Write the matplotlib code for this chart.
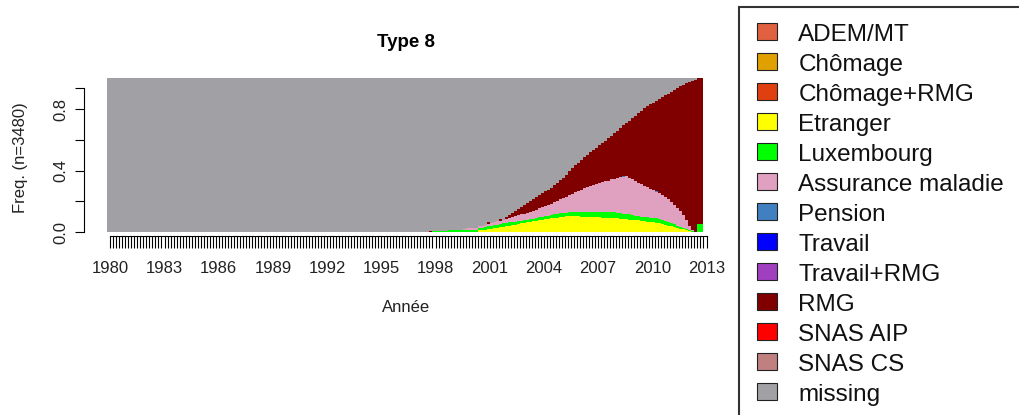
import numpy as np
import matplotlib
matplotlib.use("Agg")
import matplotlib.pyplot as plt
from matplotlib.patches import Rectangle

plt.rcParams['font.family'] = ['Liberation Sans', 'DejaVu Sans']

# states, in stacking order (bottom -> top)
states = ['ADEM/MT', 'Chômage', 'Chômage+RMG', 'Etranger', 'Luxembourg',
          'Assurance maladie', 'Pension', 'Travail', 'Travail+RMG', 'RMG',
          'SNAS AIP', 'SNAS CS', 'missing']
colors = ['#E0603F', '#E0A000', '#E04010', '#FFFF00', '#00FF00',
          '#E0A0C0', '#4080C0', '#0000FF', '#A040C0', '#800000',
          '#FF0000', '#C08080', '#A1A1A5']

# 199 bimonthly time points 1980..2013, first 105 columns all missing, last one empty
tick_labels = [str(y) for y in range(1980, 2014, 3)]
n_cols = 199

etranger = [0.0] * 105 + [0] * 18 + [
    .012, .015, .018, .02, .023, .026, .029, .032, .036, .04,
    .043, .047, .05, .054, .058, .061, .065, .069, .072, .075,
    .078, .081, .084, .087, .09, .093, .096, .099, .102, .104,
    .105, .105, .104, .103, .102, .102, .101, .101, .1, .099,
    .097, .096, .095, .094, .093, .092, .09, .088, .086, .084,
    .083, .081, .079, .078, .076, .073, .07, .067, .064, .061,
    .058, .053, .048, .043, .038, .033, .028, .024, .019, .014,
    .008, .003, 0, 0, 0] + [0.0]

luxembourg = [0.0] * 105 + [0, 0, 0,
    .006, .007, .008, .009, .01, .014, .016, .017, .018, .018,
    .018, .017, .016, .016, .016, .015, .016, .017, .018, .019,
    .02, .021, .021, .022, .022, .022, .02, .019, .018, .017,
    .016, .015, .015, .016, .018, .019, .02, .021, .022, .022,
    .023, .023, .024, .024, .024, .025, .026, .027, .028, .029,
    .029, .029, .03, .03, .031, .032, .033, .034, .035, .036,
    .037, .038, .037, .036, .035, .033, .031, .029, .027, .026,
    .026, .027, .028, .028, .029, .029, .028, .026, .024, .021,
    .018, .015, .013, .011, .01, .009, .007, .004, .055, .055] + [0.0]

assurance = [0.0] * 105 + [0] * 13 + [
    .006, .008, .009, .01, .01, .011, .012, .014, .015, .017,
    .019, .021, .023, .025, .027, .03, .033, .036, .039, .042,
    .045, .048, .05, .053, .055, .058, .061, .064, .067, .073,
    .079, .086, .092, .098, .104, .111, .119, .128, .136, .145,
    .154, .162, .167, .175, .181, .189, .195, .201, .207, .214,
    .219, .225, .233, .24, .247, .239, .233, .225, .217, .21,
    .203, .195, .187, .18, .172, .165, .161, .158, .148, .139,
    .129, .117, .101, .082, .056, .023, .002, 0, 0, 0] + [0.0]

pension = [0.0] * 105 + [0] * 66 + [.006] + [0] * 10 + [.005] + [0] * 15 + [0.0]

rmg = [0.0] * 105 + [0, 0, .01] + [0] * 18 + [.012, 0, 0, 0, .01, 0,
    .011, .02, .028, .036, .043, .05, .058, .065, .071, .076,
    .081, .086, .091, .096, .101, .105, .11, .115, .122, .131,
    .143, .154, .165, .175, .185, .194, .203, .213, .222, .23,
    .239, .247, .256, .265, .274, .282, .295, .307, .319, .326,
    .344, .37, .395, .424, .451, .478, .503, .526, .548, .57,
    .586, .613, .635, .657, .686, .715, .745, .777, .81, .846,
    .888, .937, .973, .988, .945, .945] + [0.0]

missing = [1.0] * 105 + [1, 1, .99,
    .994, .993, .992, .991, .99, .986, .984, .983, .982, .982,
    .976, .975, .975, .974, .974, .962, .957, .951, .935, .941,
    .935, .929, .914, .917, .90, .885, .872, .859, .846, .833,
    .82, .807, .795, .783, .771, .759, .747, .735, .723, .71,
    .695, .68, .663, .645, .625, .605, .585, .566, .548, .53,
    .512, .495, .48, .465, .45, .435, .42, .405, .39, .375,
    .357, .34, .323, .306, .29, .275, .26, .243, .227, .21,
    .195, .182, .17, .158, .147, .135, .123, .111, .099, .087,
    .075, .063, .052, .042, .032, .023, .015, .008, 0, 0] + [0.0]

zeros = [0.0] * n_cols
series = [zeros, zeros, zeros, etranger, luxembourg, assurance, pension,
          zeros, zeros, rmg, zeros, zeros, missing]

W, H = 1019, 415
fig = plt.figure(figsize=(W / 100, H / 100), dpi=100)
ax = fig.add_axes([107.3 / W, (H - 232.3) / H, 599.2 / W, 154 / H])

edges = np.arange(n_cols + 1)
bottom = np.zeros(n_cols)
for vals, c in zip(series, colors):
    v = np.array(vals, dtype=float)
    if v.sum() > 0:
        ax.stairs(bottom + v, edges, baseline=bottom.copy(), fill=True,
                  color=c, linewidth=0)
    bottom = bottom + v

ax.set_xlim(0, n_cols)
ax.set_ylim(0, 1)
for s in ['top', 'right']:
    ax.spines[s].set_visible(False)
ax.spines['left'].set_position(('outward', 16.8))
ax.spines['left'].set_bounds(0, 0.935)
ax.spines['bottom'].set_position(('outward', 2.9))
ax.spines['bottom'].set_bounds(1, n_cols)

ticks = np.arange(1, n_cols + 1)
ax.set_xticks(ticks)
ax.set_xticklabels([tick_labels[(t - 1) // 18] if (t - 1) % 18 == 0 else ''
                    for t in ticks])
ax.tick_params(axis='x', length=8.6, width=0.8, pad=9, labelsize=12,
               labelcolor='#222222')

ax.set_yticks([0, 0.2, 0.4, 0.6, 0.8, 0.935])
ax.set_yticklabels(['0.0', '', '0.4', '', '0.8', ''])
ax.tick_params(axis='y', length=6.5, width=0.8, pad=5, labelsize=12,
               labelcolor='#222222')
for lab in ax.get_yticklabels():
    lab.set_rotation(90)
    lab.set_va('center')

fig.text(406 / W, 1 - 42.5 / H, 'Type 8', fontsize=13.5, fontweight='bold',
         ha='center', va='center')
fig.text(21 / W, 1 - 157.5 / H, 'Freq. (n=3480)', fontsize=12, rotation=90,
         ha='center', va='center', color='#222222')
fig.text(405.8 / W, 1 - 307 / H, 'Année', fontsize=12, ha='center',
         va='center', color='#222222')

# legend box
fig.patches.append(Rectangle((739.3 / W, -0.05), 0.5, 1 - 6.7 / H + 0.05,
                             transform=fig.transFigure, fill=False,
                             edgecolor='#333333', linewidth=1.5))
for i, (name, c) in enumerate(zip(states, colors)):
    yc = 31.7 + 30 * i
    fig.patches.append(Rectangle((757.3 / W, 1 - (yc + 8.5) / H), 19.4 / W,
                                 17 / H, transform=fig.transFigure,
                                 facecolor=c, edgecolor='#222222',
                                 linewidth=0.8))
    fig.text(798.3 / W, 1 - (yc + 9.5) / H, name, fontsize=17.5,
             ha='left', va='baseline', color='#111111')

fig.savefig('out.png', dpi=100)
